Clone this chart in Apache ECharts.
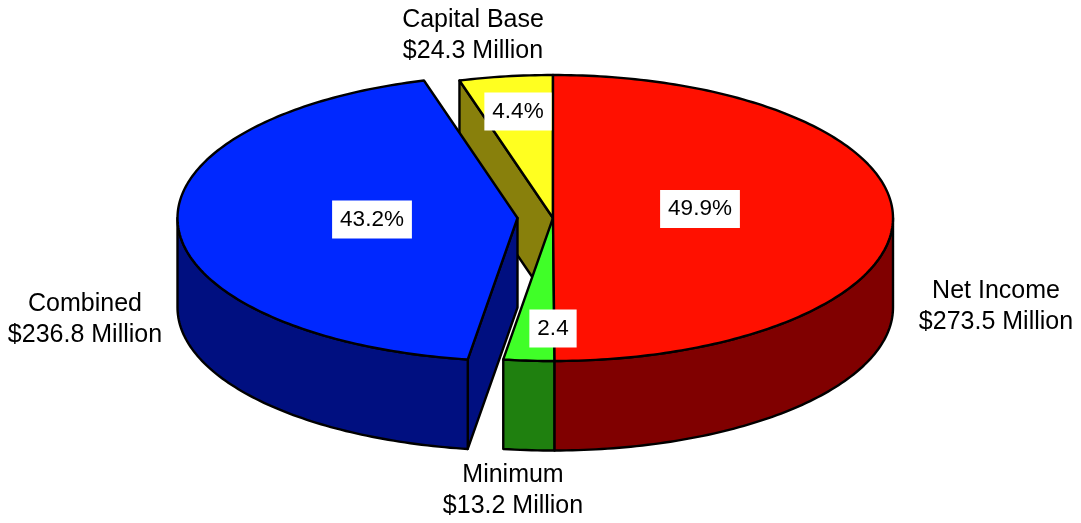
<!DOCTYPE html>
<html>
<head>
<meta charset="utf-8">
<style>
  html, body { margin: 0; padding: 0; background: #fff; }
  #chart { width: 1081px; height: 523px; }
</style>
<script src="https://cdn.jsdelivr.net/npm/echarts@6/dist/echarts.min.js"></script>
</head>
<body>
<div id="chart"></div>
<script>
// data, in sweep order clockwise from 12 o'clock
const categories = ['Net Income', 'Minimum', 'Combined', 'Capital Base']
const millions = [273.5, 13.2, 236.8, 24.3]
const shareLabels = ['49.9%', '2.4', '43.2%', '4.4%']

// styling per slice
const topColors = ['#ff1000', '#40ff28', '#0028ff', '#ffff20']
const sideColors = ['#800000', '#1f800f', '#000f80', '#88800c']
const explode = [0, 0, 35.5, 0]
const drawOrder = [3, 2, 4, 1]
const shareLabelPos = [[700, 209], [553, 328.5], [372, 219.5], [518, 111.5]]
const nameLabelPos = [[996, 307], [513, 491], [85, 320], [473, 36]]

// pie geometry
const cx = 553
const cy = 218
const rx = 340
const ry = 143
const depth = 89.5
const total = millions.reduce((a, b) => a + b, 0)

function rim(px, py, deg) {
  const r = deg * Math.PI / 180
  return [px + rx * Math.sin(r), py - ry * Math.cos(r)]
}

function arc(px, py, from, to) {
  const pts = []
  const n = Math.max(2, Math.ceil(Math.abs(to - from)))
  for (let i = 0; i <= n; i++) pts.push(rim(px, py, from + (to - from) * i / n))
  return pts
}

function poly(points, fill, z2) {
  return {
    type: 'polygon',
    z2,
    shape: { points },
    style: { fill, stroke: '#000', lineWidth: 2.4, lineJoin: 'round' }
  }
}

function wall(px, a, color, z2) {
  const edge = rim(px, cy, a)
  return poly([[px, cy], edge, [edge[0], edge[1] + depth], [px, cy + depth]], color, z2)
}

function renderSlice(params, api) {
  const i = params.dataIndex
  let from = 0
  for (let k = 0; k < i; k++) from += millions[k] / total * 360
  const to = from + api.value(0) / total * 360
  const px = cx - explode[i]
  const z = drawOrder[i] * 10
  const children = []

  // cut faces, only the ones turned to the viewer
  if (Math.sin(from * Math.PI / 180) < -0.001) children.push(wall(px, from, sideColors[i], z))
  if (Math.sin(to * Math.PI / 180) > 0.01) children.push(wall(px, to, sideColors[i], z))

  // outer wall, front half of the rim only
  const a = Math.max(from, 90)
  const b = Math.min(to, 270)
  if (b > a) {
    const upper = arc(px, cy, a, b)
    const lower = arc(px, cy + depth, b, a)
    children.push(poly(upper.concat(lower), sideColors[i], z + 1))
  }

  // top face
  children.push(poly([[px, cy]].concat(arc(px, cy, from, to)), topColors[i], z + 2))

  children.push({
    type: 'text',
    z2: 100,
    x: shareLabelPos[i][0],
    y: shareLabelPos[i][1],
    style: {
      text: shareLabels[i],
      fill: '#000',
      font: '22.5px "Liberation Sans", Arial, sans-serif',
      align: 'center',
      verticalAlign: 'middle',
      lineHeight: 22,
      backgroundColor: '#fff',
      padding: [8, 8]
    }
  })
  children.push({
    type: 'text',
    z2: 100,
    x: nameLabelPos[i][0],
    y: nameLabelPos[i][1],
    style: {
      text: categories[i] + '\n$' + millions[i].toFixed(1) + ' Million',
      fill: '#000',
      font: '25px "Liberation Sans", Arial, sans-serif',
      align: 'center',
      verticalAlign: 'middle',
      lineHeight: 31
    }
  })
  return { type: 'group', children }
}

const chart = echarts.init(document.getElementById('chart'), null, { renderer: 'canvas' })
chart.setOption({
  animation: false,
  backgroundColor: '#fff',
  series: [
    {
      type: 'custom',
      coordinateSystem: 'none',
      renderItem: renderSlice,
      data: millions.map((v, i) => ({ name: categories[i], value: [v] }))
    }
  ]
})
</script>
</body>
</html>
